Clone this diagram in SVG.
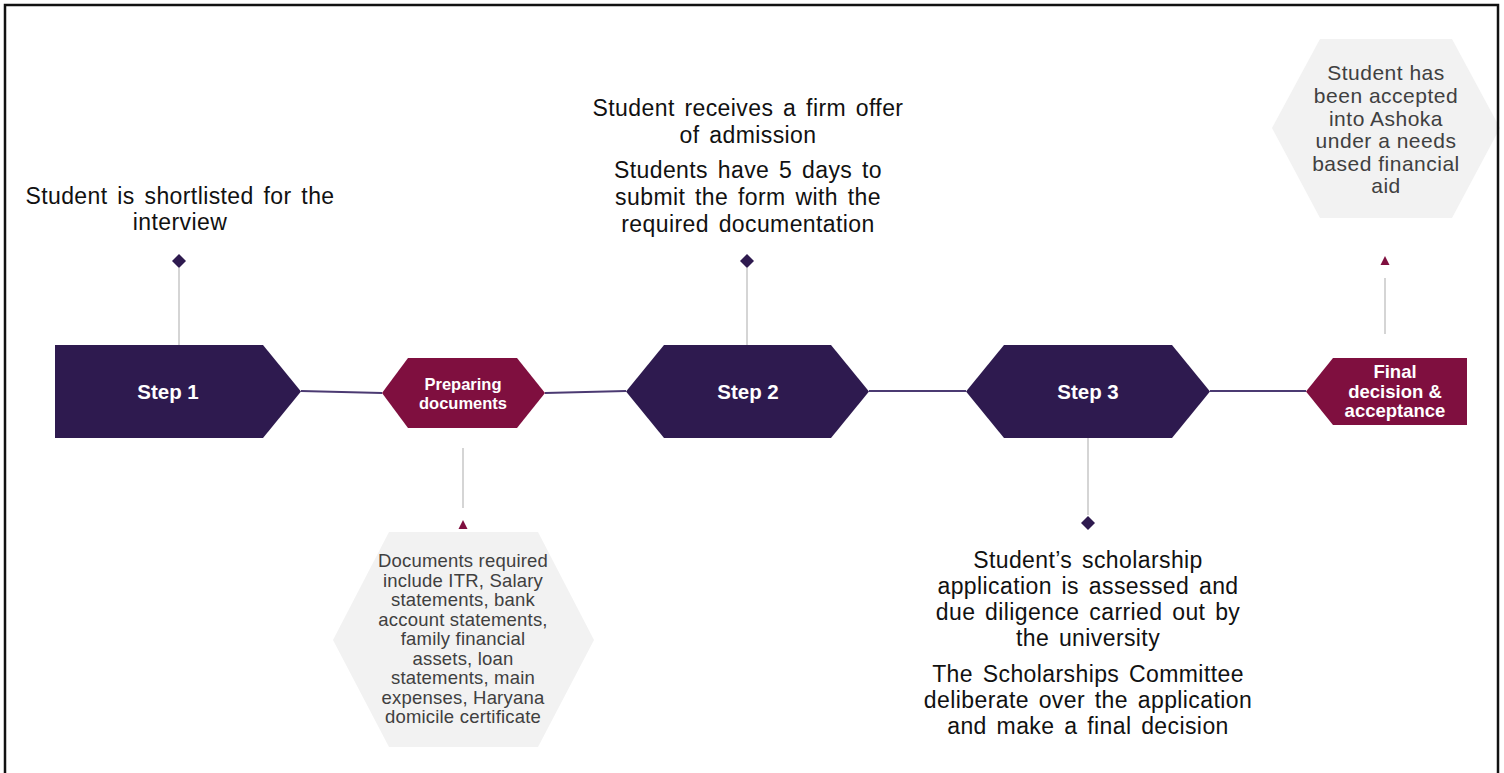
<svg xmlns="http://www.w3.org/2000/svg" width="1504" height="773" viewBox="0 0 1504 773">
<style>
.step{fill:#2e1a4f}
.mag{fill:#7f0f3f}
.gray{fill:#f2f2f2}
.lbl{font-family:"Liberation Sans",Arial,sans-serif;font-weight:bold;fill:#ffffff;text-anchor:middle}
.txt{font-family:"Liberation Sans",Arial,sans-serif;font-size:23px;fill:#111111;text-anchor:middle;letter-spacing:0.4px;word-spacing:3px}
.gtxt{font-family:"Liberation Sans",Arial,sans-serif;fill:#404040;text-anchor:middle}
.vl{stroke:#bfbfbf;stroke-width:1.3;fill:none}
.hl{stroke:#4b3a72;stroke-width:1.8;fill:none}
.dia{fill:#2e1a4f}
.tri{fill:#7f0f3f}
</style>
<rect x="0" y="0" width="1504" height="773" fill="#ffffff"/>

<g id="connectors">
<line class="hl" x1="301" y1="391" x2="382" y2="393"/>
<line class="hl" x1="545" y1="393" x2="626" y2="391"/>
<line class="hl" x1="869" y1="391" x2="966" y2="391"/>
<line class="hl" x1="1210" y1="391" x2="1306" y2="391"/>
<line class="vl" x1="179" y1="268" x2="179" y2="345"/>
<line class="vl" x1="747" y1="268" x2="747" y2="345"/>
<line class="vl" x1="463" y1="448" x2="463" y2="508"/>
<line class="vl" x1="1088" y1="438" x2="1088" y2="515"/>
<line class="vl" x1="1385" y1="278" x2="1385" y2="334"/>
<path class="dia" d="M179 254 L186 261 L179 268 L172 261 Z"/>
<path class="dia" d="M747 254 L754 261 L747 268 L740 261 Z"/>
<path class="dia" d="M1088 516 L1095 523 L1088 530 L1081 523 Z"/>
<path class="tri" d="M463 520 L467.5 529 L458.5 529 Z"/>
<path class="tri" d="M1385 256 L1389.5 265 L1380.5 265 Z"/>
</g>

<g id="step1">
<path class="step" d="M55 345 L263 345 L301 391.5 L263 438 L55 438 Z"/>
<text class="lbl" x="168" y="399" font-size="20.5">Step 1</text>
</g>

<g id="preparing">
<path class="mag" d="M382 393 L408 358 L517 358 L545 393 L517 428 L408 428 Z"/>
<text class="lbl" x="463" y="390" font-size="16.5">Preparing</text>
<text class="lbl" x="463" y="409" font-size="16.5">documents</text>
</g>

<g id="step2">
<path class="step" d="M626 391.5 L664 345 L831 345 L869 391.5 L831 438 L664 438 Z"/>
<text class="lbl" x="748" y="399" font-size="20.5">Step 2</text>
</g>

<g id="step3">
<path class="step" d="M966 391.5 L1004 345 L1172 345 L1210 391.5 L1172 438 L1004 438 Z"/>
<text class="lbl" x="1088" y="399" font-size="20.5">Step 3</text>
</g>

<g id="final">
<path class="mag" d="M1306 391.5 L1333 358 L1467 358 L1467 425 L1333 425 Z"/>
<text class="lbl" x="1395" y="378" font-size="18.5">Final</text>
<text class="lbl" x="1395" y="398" font-size="18.5">decision &amp;</text>
<text class="lbl" x="1395" y="417" font-size="18.5">acceptance</text>
</g>

<g id="note-step1">
<text class="txt" x="180" y="204">Student is shortlisted for the</text>
<text class="txt" x="180" y="230">interview</text>
</g>

<g id="note-step2">
<text class="txt" x="748" y="116">Student receives a firm offer</text>
<text class="txt" x="748" y="143">of admission</text>
<text class="txt" x="748" y="178">Students have 5 days to</text>
<text class="txt" x="748" y="205">submit the form with the</text>
<text class="txt" x="748" y="232">required documentation</text>
</g>

<g id="note-step3">
<text class="txt" x="1088" y="568">Student’s scholarship</text>
<text class="txt" x="1088" y="594">application is assessed and</text>
<text class="txt" x="1088" y="620">due diligence carried out by</text>
<text class="txt" x="1088" y="646">the university</text>
<text class="txt" x="1088" y="682">The Scholarships Committee</text>
<text class="txt" x="1088" y="708">deliberate over the application</text>
<text class="txt" x="1088" y="734">and make a final decision</text>
</g>

<g id="docs">
<path class="gray" d="M333 640 L389 532 L538 532 L594 640 L538 747 L389 747 Z"/>
<g class="gtxt" font-size="18.5" letter-spacing="0.2">
<text x="463" y="567">Documents required</text>
<text x="463" y="587">include ITR,  Salary</text>
<text x="463" y="606">statements, bank</text>
<text x="463" y="626">account statements,</text>
<text x="463" y="645">family financial</text>
<text x="463" y="665">assets, loan</text>
<text x="463" y="684">statements, main</text>
<text x="463" y="704">expenses,  Haryana</text>
<text x="463" y="723">domicile certificate</text>
</g>
</g>

<g id="accepted">
<path class="gray" d="M1272 128 L1320 39 L1452 39 L1500 128 L1452 218 L1320 218 Z"/>
<g class="gtxt" font-size="21" letter-spacing="0.5">
<text x="1386" y="80">Student has</text>
<text x="1386" y="103">been accepted</text>
<text x="1386" y="126">into Ashoka</text>
<text x="1386" y="148">under a needs</text>
<text x="1386" y="171">based financial</text>
<text x="1386" y="193">aid</text>
</g>
</g>

<rect x="5" y="5" width="1493" height="820" fill="none" stroke="#111111" stroke-width="2.5"/>
</svg>
